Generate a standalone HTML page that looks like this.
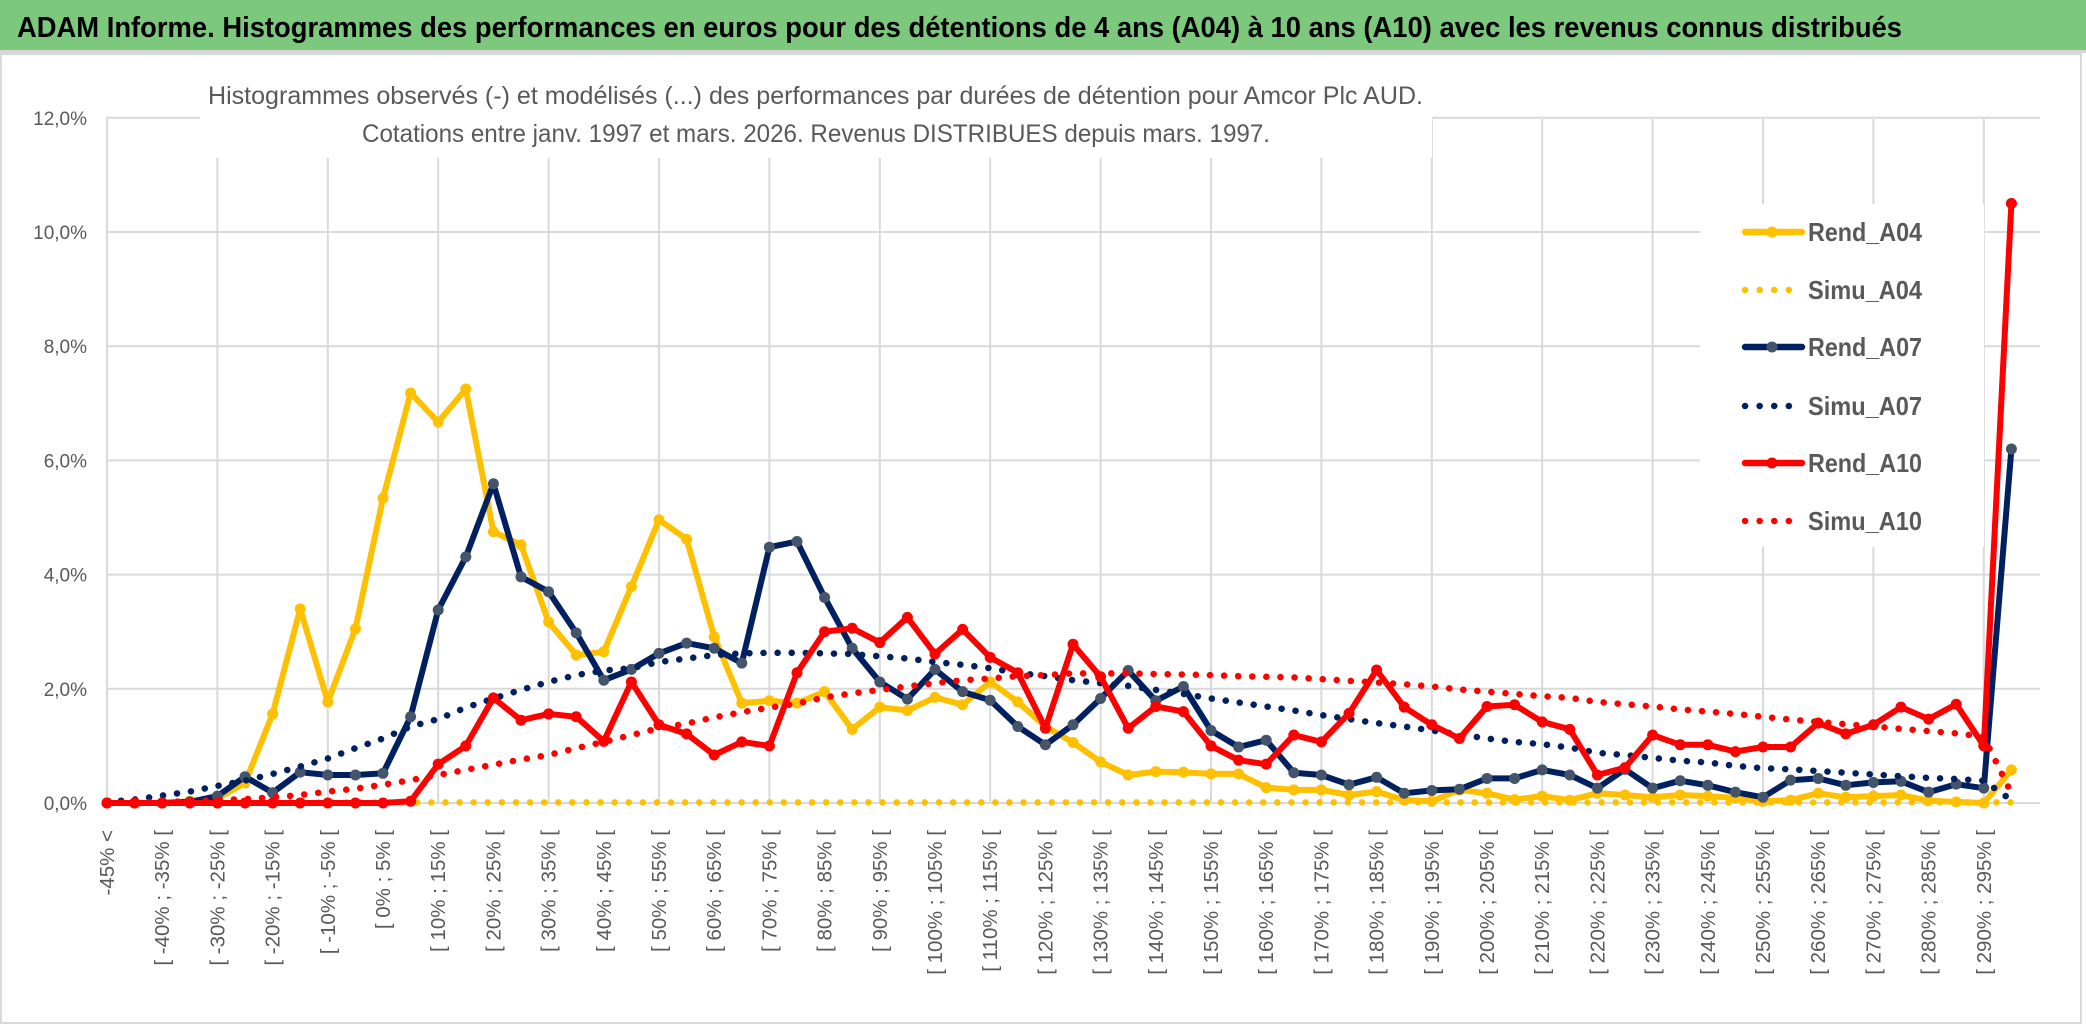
<!DOCTYPE html>
<html><head><meta charset="utf-8"><style>
html,body{margin:0;padding:0;background:#fff;width:2086px;height:1031px;overflow:hidden}
svg{display:block;font-family:"Liberation Sans",sans-serif}
</style></head><body>
<svg id="chart" width="2086" height="1031" viewBox="0 0 2086 1031" xmlns="http://www.w3.org/2000/svg">
<rect x="0" y="0" width="2086" height="1031" fill="#fff"/>
<rect x="0" y="0" width="2086" height="50" fill="#7cc97e"/>
<rect x="0" y="50" width="2086" height="3" fill="#d6d6d6"/>
<text x="17" y="37" font-size="29" font-weight="bold" fill="#000" textLength="1885" lengthAdjust="spacingAndGlyphs">ADAM Informe. Histogrammes des performances en euros pour des détentions de 4 ans (A04) à 10 ans (A10) avec les revenus connus distribués</text>
<rect x="1" y="54" width="2080" height="969" fill="none" stroke="#d9d9d9" stroke-width="2"/>
<g id="grid"></g>
<g id="yaxis"></g>
<g id="xaxis"></g>
<rect x="200" y="60" width="1232" height="98" fill="#fff"/>
<text x="208" y="104" font-size="25" fill="#595959" textLength="1215" lengthAdjust="spacingAndGlyphs">Histogrammes observés (-) et modélisés (...) des performances par durées de détention pour Amcor Plc AUD.</text>
<text x="362" y="142" font-size="25" fill="#595959" textLength="908" lengthAdjust="spacingAndGlyphs">Cotations entre janv. 1997 et mars. 2026. Revenus DISTRIBUES depuis mars. 1997.</text>
<rect x="1700" y="204" width="284" height="343" fill="#fff"/>
<g id="series"></g>
<g id="legend"></g>
</svg>
<script>
const categoriesStart = -45;
const categoryCount = 70;
const yTicks = [0, 2, 4, 6, 8, 10, 12];
const rendA04 = [0,0,0,0.03,0.08,0.35,1.56,3.40,1.77,3.05,5.34,7.18,6.67,7.25,4.75,4.52,3.17,2.59,2.65,3.79,4.96,4.62,2.91,1.75,1.79,1.75,1.95,1.29,1.68,1.62,1.85,1.72,2.12,1.77,1.34,1.06,0.72,0.49,0.55,0.54,0.51,0.51,0.27,0.23,0.23,0.14,0.20,0.05,0.03,0.23,0.17,0.06,0.12,0.05,0.17,0.14,0.10,0.14,0.12,0.09,0.03,0.05,0.17,0.10,0.12,0.14,0.04,0.02,0.00,0.58];
const simuA04 = [0.01,0.01,0.01,0.01,0.01,0.01,0.01,0.01,0.01,0.01,0.01,0.01,0.01,0.01,0.01,0.01,0.01,0.01,0.01,0.01,0.01,0.01,0.01,0.01,0.01,0.01,0.01,0.01,0.01,0.01,0.01,0.01,0.01,0.01,0.01,0.01,0.01,0.01,0.01,0.01,0.01,0.01,0.01,0.01,0.01,0.01,0.01,0.01,0.01,0.01,0.01,0.01,0.01,0.01,0.01,0.01,0.01,0.01,0.01,0.01,0.01,0.01,0.01,0.01,0.01,0.01,0.01,0.01,0.01,0.01];
const rendA07 = [0,0,0,0.02,0.12,0.46,0.18,0.54,0.49,0.49,0.52,1.51,3.38,4.31,5.59,3.96,3.70,2.98,2.15,2.34,2.62,2.80,2.71,2.45,4.48,4.58,3.60,2.71,2.12,1.82,2.34,1.95,1.80,1.34,1.02,1.37,1.83,2.32,1.79,2.04,1.27,0.98,1.10,0.53,0.49,0.32,0.45,0.17,0.22,0.24,0.43,0.43,0.58,0.49,0.26,0.59,0.26,0.39,0.31,0.19,0.10,0.40,0.43,0.31,0.36,0.38,0.19,0.33,0.26,6.2];
const simuA07 = [0.02,0.06,0.13,0.2,0.30,0.39,0.51,0.64,0.78,0.96,1.13,1.34,1.47,1.67,1.83,1.98,2.12,2.24,2.32,2.36,2.47,2.53,2.59,2.62,2.63,2.63,2.62,2.61,2.57,2.53,2.47,2.42,2.36,2.28,2.22,2.15,2.10,2.05,1.98,1.91,1.83,1.76,1.69,1.62,1.54,1.47,1.40,1.34,1.27,1.20,1.13,1.07,1.03,0.97,0.88,0.84,0.79,0.74,0.71,0.65,0.61,0.59,0.56,0.53,0.50,0.47,0.44,0.42,0.39,0.05];
const rendA10 = [0,0,0,0,0,0,0,0,0,0,0,0.03,0.68,1.0,1.84,1.45,1.56,1.51,1.08,2.12,1.37,1.21,0.84,1.07,1.0,2.28,3.0,3.06,2.81,3.25,2.61,3.04,2.55,2.28,1.31,2.78,2.21,1.31,1.69,1.60,1.0,0.75,0.68,1.19,1.07,1.57,2.33,1.68,1.37,1.13,1.69,1.72,1.42,1.29,0.49,0.62,1.19,1.02,1.02,0.90,0.98,0.98,1.40,1.21,1.37,1.68,1.47,1.73,1.0,10.5];
const simuA10 = [0,0.01,0.02,0.03,0.05,0.07,0.1,0.14,0.2,0.25,0.32,0.40,0.49,0.58,0.67,0.76,0.84,0.96,1.07,1.19,1.31,1.39,1.50,1.59,1.67,1.74,1.85,1.92,1.98,2.04,2.10,2.15,2.18,2.22,2.24,2.27,2.27,2.27,2.26,2.25,2.24,2.22,2.21,2.20,2.17,2.14,2.11,2.08,2.04,1.99,1.95,1.91,1.87,1.84,1.77,1.73,1.69,1.64,1.60,1.56,1.51,1.46,1.42,1.38,1.34,1.30,1.26,1.22,1.16,0.17];
const legendNames = ["Rend_A04","Simu_A04","Rend_A07","Simu_A07","Rend_A10","Simu_A10"];

const NS = "http://www.w3.org/2000/svg";
const X0 = 107, DX = 27.6, Y0 = 803, PPU = 57.1, PLOT_L = 106, PLOT_R = 2040, PLOT_T = 119;
function xPos(i){ return X0 + DX * i; }
function yPos(v){ return Y0 - v * PPU; }
function mk(tag, attrs, parent){ const e = document.createElementNS(NS, tag); for (const k in attrs) e.setAttribute(k, attrs[k]); parent.appendChild(e); return e; }
function catLabel(i){ if (i === 0) return "-45% <"; if (i === categoryCount - 1) return "> 295%"; const a = categoriesStart + 5 * (i - 1); return "[ " + a + "% ; " + (a + 5) + "% ["; }

const grid = document.getElementById('grid');
yTicks.forEach(t => {
  const l = mk('line', {x1: PLOT_L, x2: PLOT_R, y1: yPos(t), y2: yPos(t), stroke: '#d9d9d9', 'stroke-width': 2}, grid);
  
  
});
for (let i = 0; i < categoryCount; i += 4) {
  const l = mk('line', {x1: xPos(i), x2: xPos(i), y1: PLOT_T, y2: Y0, stroke: '#d9d9d9', 'stroke-width': 2}, grid);
  
  
}
const yaxis = document.getElementById('yaxis');
yTicks.forEach(t => {
  const tx = mk('text', {x: 87, y: yPos(t) + 7, 'text-anchor': 'end', 'font-size': 19, fill: '#595959'}, yaxis);
  tx.textContent = t.toFixed(1).replace('.', ',') + '%';
  
  
});
const xaxis = document.getElementById('xaxis');
for (let i = 0; i < categoryCount; i += 2) {
  const x = xPos(i);
  const tx = mk('text', {x: x, y: 830, 'text-anchor': 'end', 'font-size': 20.5, fill: '#595959', transform: 'rotate(-90 ' + x + ' 830)', dy: '7'}, xaxis);
  tx.textContent = catLabel(i);
  
  
}

const seriesG = document.getElementById('series');
const defs = [
  {name: 'rend-a04', data: rendA04, color: '#ffc000', marker: '#ffc000', dotted: false},
  {name: 'simu-a04', data: simuA04, color: '#ffc000', dotted: true},
  {name: 'rend-a07', data: rendA07, color: '#002060', marker: '#44546a', dotted: false},
  {name: 'simu-a07', data: simuA07, color: '#002060', dotted: true},
  {name: 'rend-a10', data: rendA10, color: '#ff0000', marker: '#ff0000', dotted: false},
  {name: 'simu-a10', data: simuA10, color: '#ff0000', dotted: true}
];
defs.forEach(s => {
  const g = mk('g', {}, seriesG);
  
  
  const pts = s.data.map((v, i) => xPos(i).toFixed(1) + ',' + yPos(v).toFixed(1)).join(' ');
  const attrs = {points: pts, fill: 'none', stroke: s.color, 'stroke-width': s.dotted ? 6.5 : 6, 'stroke-linejoin': 'round', 'stroke-linecap': 'round'};
  if (s.dotted) attrs['stroke-dasharray'] = '0.1 14';
  const pl = mk('polyline', attrs, g);
  
  
  if (!s.dotted) {
    s.data.forEach((v, i) => {
      const c = mk('circle', {cx: xPos(i), cy: yPos(v), r: 5.5, fill: s.marker}, g);
      
      
    });
  }
});

const legend = document.getElementById('legend');
const legendY = [232, 290, 347, 406, 463, 521];
legendNames.forEach((nm, k) => {
  const s = defs[k];
  const y = legendY[k];
  const g = mk('g', {}, legend);
  
  
  const la = {x1: 1745, x2: s.dotted ? 1800 : 1802, y1: y, y2: y, stroke: s.color, 'stroke-width': s.dotted ? 6.5 : 6.5, 'stroke-linecap': 'round'};
  if (s.dotted) la['stroke-dasharray'] = '0.1 14.5';
  const ln = mk('line', la, g);
  
  
  if (!s.dotted) {
    const c = mk('circle', {cx: 1772, cy: y, r: 5.5, fill: s.marker}, g);
    
    
  }
  const t = mk('text', {x: 1808, y: y + 9, 'font-size': 26, 'font-weight': 'bold', fill: '#595959', textLength: 114, lengthAdjust: 'spacingAndGlyphs'}, g);
  t.textContent = nm;
  
  
});
</script>
</body></html>
